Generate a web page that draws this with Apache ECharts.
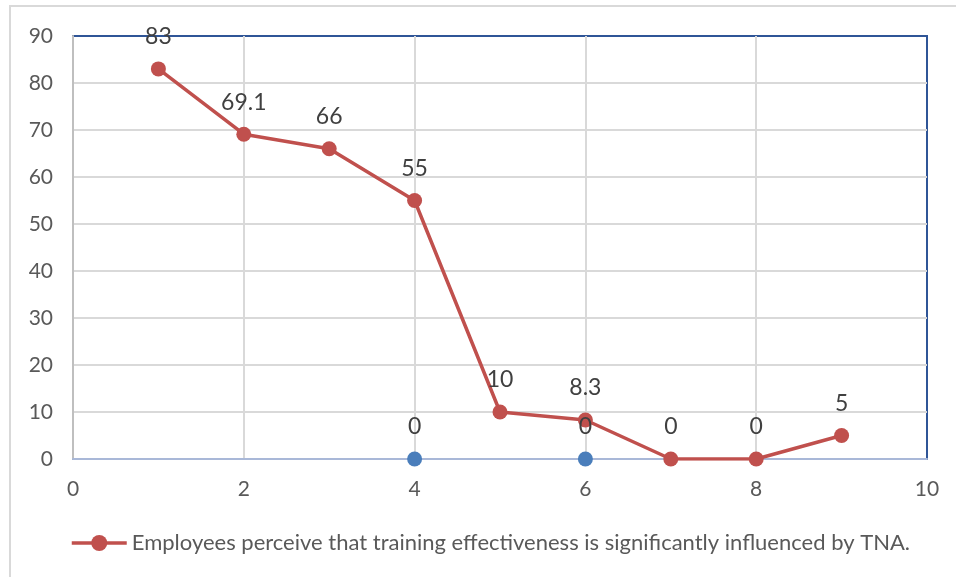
<!DOCTYPE html>
<html>
<head>
<meta charset="utf-8">
<script src="https://cdn.jsdelivr.net/npm/echarts@6/dist/echarts.min.js"></script>
<style>
  html, body { margin: 0; padding: 0; background: #fff; }
  #chart { width: 956px; height: 577px; }
</style>
</head>
<body>
<div id="chart"></div>
<script>
// Main series: perception scores by item number
const seriesName = 'Employees perceive that training effectiveness is significantly influenced by TNA.';
const xValues = [1, 2, 3, 4, 5, 6, 7, 8, 9];
const yValues = [83, 69.1, 66, 55, 10, 8.3, 0, 0, 5];

// Secondary zero-value points
const extraX = [4, 6];
const extraY = [0, 0];

const xTicks = { min: 0, max: 10, interval: 2 };
const yTicks = { min: 0, max: 90, interval: 10 };

const FONT = 'Lato, "Open Sans", sans-serif';
const labelStyle = {
  show: true,
  position: 'top',
  distance: 13,
  fontFamily: FONT,
  fontSize: 23,
  color: '#404040'
};

const chart = echarts.init(document.getElementById('chart'), null, { renderer: 'canvas' });
chart.setOption({
  animation: false,
  backgroundColor: '#ffffff',
  textStyle: { fontFamily: FONT },
  graphic: [{
    type: 'rect',
    shape: { x: 10, y: 6, width: 960, height: 590 },
    style: { fill: 'none', stroke: '#d9d9d9', lineWidth: 2 },
    silent: true
  }],
  grid: {
    left: 73, right: 29, top: 36, bottom: 118,
    show: true, borderColor: '#2f5597', borderWidth: 2, backgroundColor: 'transparent'
  },
  legend: {
    data: [seriesName],
    left: 70, top: 532, padding: 0,
    itemWidth: 55, itemHeight: 20, itemGap: 10,
    lineStyle: { width: 3.5 },
    textStyle: { fontFamily: FONT, fontSize: 22, color: '#595959' }
  },
  xAxis: {
    type: 'value',
    min: xTicks.min, max: xTicks.max, interval: xTicks.interval,
    axisLine: { show: true, lineStyle: { color: '#a9b8d8', width: 2 } },
    axisTick: { show: false },
    axisLabel: { margin: 20, fontFamily: FONT, fontSize: 21, color: '#595959' },
    splitLine: { show: true, showMinLine: false, showMaxLine: false, lineStyle: { color: '#d9d9d9', width: 2 } }
  },
  yAxis: {
    type: 'value',
    min: yTicks.min, max: yTicks.max, interval: yTicks.interval,
    axisLine: { show: true, lineStyle: { color: '#bfbfbf', width: 2 } },
    axisTick: { show: false },
    axisLabel: { margin: 20, fontFamily: FONT, fontSize: 21, color: '#595959' },
    splitLine: { show: true, showMinLine: false, showMaxLine: false, lineStyle: { color: '#d9d9d9', width: 2 } }
  },
  series: [
    {
      name: seriesName,
      type: 'line',
      data: xValues.map((x, i) => [x, yValues[i]]),
      symbol: 'circle',
      symbolSize: 15,
      lineStyle: { color: '#c0504d', width: 3.5 },
      itemStyle: { color: '#c0504d' },
      label: Object.assign({}, labelStyle, { formatter: p => String(p.value[1]) }),
      z: 3
    },
    {
      name: 'zero',
      type: 'scatter',
      data: extraX.map((x, i) => [x, extraY[i]]),
      symbol: 'circle',
      symbolSize: 15,
      itemStyle: { color: '#4a7ebb', opacity: 1 },
      label: Object.assign({}, labelStyle, { formatter: p => String(p.value[1]) }),
      z: 5
    }
  ]
});
</script>
</body>
</html>
